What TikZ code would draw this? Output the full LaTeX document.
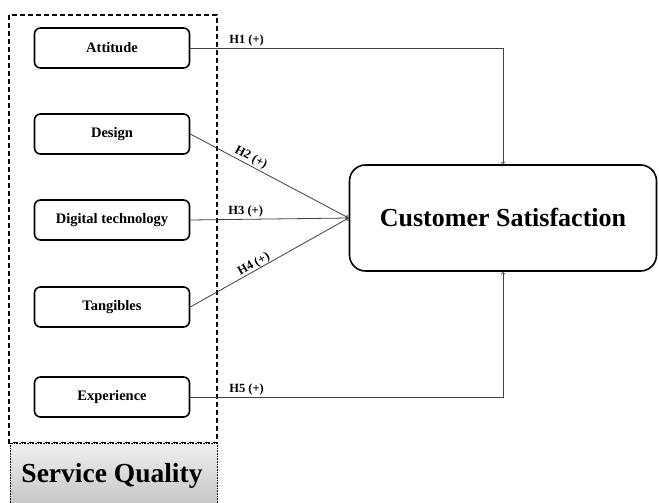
\documentclass[tikz,border=0pt]{standalone}
\usepackage{fontspec}
\setmainfont{Liberation Serif}
\usepackage{tikz}
\usetikzlibrary{arrows}
\usetikzlibrary{positioning}

\tikzset{
  factor/.style={draw=black, line width=1.6pt, rounded corners=6pt, minimum width=155pt, minimum height=40pt, font=\bfseries\fontsize{14.5}{16}\selectfont, inner sep=2pt},
  result/.style={draw=black, line width=1.6pt, rounded corners=16pt, minimum width=307pt, minimum height=106pt, font=\bfseries\fontsize{26}{30}\selectfont},
  link/.style={draw=black!75, line width=0.8pt, ->, >=to},
  hyp/.style={font=\bfseries\fontsize{12.5}{14}\selectfont, inner sep=1.5pt, text=black}
}

\begin{document}
\begin{tikzpicture}[x=1pt, y=-1pt]
\useasboundingbox (0,0) rectangle (659,503);

% group of service quality dimensions
\draw[black, line width=1.6pt, dash pattern=on 5pt off 3pt] (9,15) rectangle (217,443);
\shade[top color=black!6, bottom color=black!22] (10,443) rectangle (217,503);
\draw[black, line width=0.6pt, densely dotted] (10,503) -- (10,443) -- (217,443) -- (217,503);
\node[font=\bfseries\fontsize{27.5}{32}\selectfont] (sq) at (112,476) {Service Quality};

\node[factor] (att) at (112,48) {Attitude};
\node[factor] (des) at (112,134) {Design};
\node[factor] (dig) at (112,220) {Digital technology};
\node[factor] (tan) at (112,307) {Tangibles};
\node[factor] (exp) at (112,397) {Experience};

\node[result] (cs) at (503,218) {Customer Satisfaction};

\draw[link] (att.east) -| node[hyp, above, pos=0.09] {H1 (+)} (cs.north);
\draw[link] (des.east) -- node[hyp, above, sloped, pos=0.36] {H2 (+)} (cs.west);
\draw[link] (dig.east) -- node[hyp, above, pos=0.35] {H3 (+)} (cs.west);
\draw[link] (tan.east) -- node[hyp, above, sloped, pos=0.42, inner sep=0pt] {H4 (+)} (cs.west);
\draw[link] (exp.east) -| node[hyp, above, pos=0.09] {H5 (+)} (cs.south);
\end{tikzpicture}
\end{document}
